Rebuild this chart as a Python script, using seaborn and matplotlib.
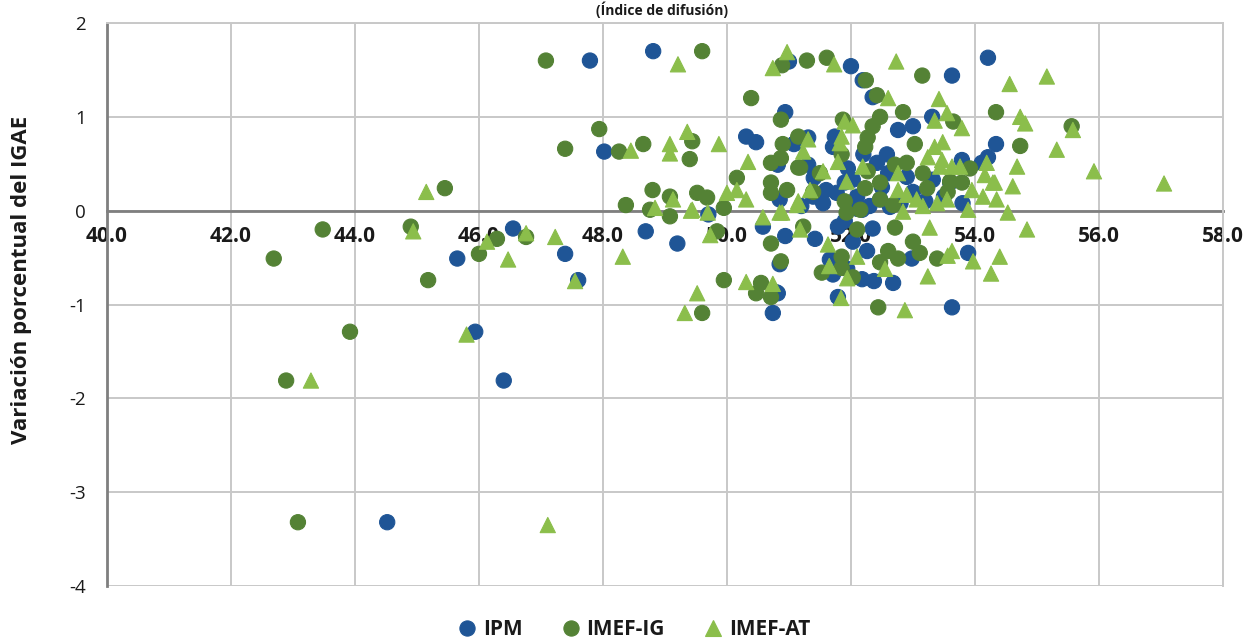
import numpy as np
import pandas as pd
import matplotlib
matplotlib.use("Agg")
import matplotlib.pyplot as plt
import seaborn as sns

# ── datos ──
ipm_x = [48.81, 47.79, 48.02, 50.31, 50.47, 50.94, 51.00, 51.08, 50.82, 50.85,
         49.70, 46.55, 48.69, 49.20, 47.39, 47.60, 50.58, 50.94, 50.85, 50.80,
         50.74, 45.94, 46.40, 44.52, 45.65, 54.21, 53.63, 52.00, 52.19, 52.35,
         52.76, 53.00, 53.31, 54.34, 54.21, 54.11, 53.79, 52.58, 52.42, 51.31,
         51.74, 51.71, 51.31, 51.10, 51.77, 52.03, 51.55, 52.18, 51.39, 53.32,
         53.60, 53.80, 52.90, 52.47, 52.63, 51.42, 51.79, 52.35, 52.26, 51.69,
         51.71, 51.94, 52.18, 52.37, 52.68, 51.79, 52.98, 53.63, 53.89, 51.90,
         52.03, 51.66, 50.82, 51.20, 51.60, 51.90, 52.10, 52.30, 52.50, 52.80,
         53.00, 53.20, 53.50, 51.40, 52.20, 51.95, 52.10, 52.60]
ipm_y = [1.70, 1.60, 0.63, 0.79, 0.73, 1.05, 1.59, 0.71, 0.49, 0.12,
         -0.04, -0.19, -0.22, -0.35, -0.46, -0.74, -0.17, -0.27, -0.57, -0.87,
         -1.09, -1.29, -1.81, -3.32, -0.51, 1.63, 1.44, 1.54, 1.39, 1.21,
         0.86, 0.90, 1.00, 0.71, 0.57, 0.51, 0.54, 0.60, 0.51, 0.78,
         0.79, 0.68, 0.49, 0.72, 0.19, 0.33, 0.08, 0.01, 0.15, 0.33,
         0.30, 0.08, 0.36, 0.12, 0.04, -0.30, -0.17, -0.19, -0.43, -0.52,
         -0.68, -0.62, -0.73, -0.75, -0.77, -0.92, -0.51, -1.03, -0.45, -0.11,
         -0.33, -0.52, -0.88, 0.05, 0.22, 0.30, 0.15, 0.05, 0.25, 0.08,
         0.20, 0.10, 0.15, 0.35, 0.60, 0.45, 0.02, 0.40]

ig_x = [45.45, 43.48, 44.90, 42.69, 45.18, 46.00, 46.29, 43.92, 42.89, 43.08,
        47.08, 49.60, 50.39, 47.94, 47.39, 48.26, 48.65, 49.44, 49.40, 48.80,
        49.08, 49.52, 49.68, 48.37, 50.16, 49.95, 48.76, 50.87, 50.90, 50.87,
        50.71, 50.71, 50.71, 50.97, 51.15, 51.15, 50.89, 49.08, 49.95, 49.60,
        50.47, 50.55, 50.71, 50.87, 50.71, 46.76, 49.84, 51.61, 51.29, 52.24,
        52.42, 53.15, 54.34, 54.73, 55.56, 52.84, 52.47, 53.65, 53.03, 52.27,
        51.87, 52.35, 52.23, 51.85, 51.18, 51.50, 52.27, 52.71, 52.90, 53.16,
        53.92, 53.79, 52.47, 52.23, 53.23, 51.90, 52.47, 52.15, 52.68, 53.56,
        51.93, 51.39, 52.71, 53.00, 53.11, 53.39, 52.60, 52.76, 52.47, 52.10,
        51.85, 51.85, 51.53, 52.03, 52.44, 51.23, 53.60]
ig_y = [0.24, -0.20, -0.17, -0.51, -0.74, -0.46, -0.30, -1.29, -1.81, -3.32,
        1.60, 1.70, 1.20, 0.87, 0.66, 0.63, 0.71, 0.74, 0.55, 0.22,
        0.15, 0.19, 0.14, 0.06, 0.35, 0.03, 0.01, 0.97, 0.71, 0.56,
        0.51, 0.30, 0.19, 0.22, 0.79, 0.46, 1.55, -0.06, -0.74, -1.09,
        -0.88, -0.77, -0.35, -0.54, -0.92, -0.28, -0.22, 1.63, 1.60, 1.39,
        1.23, 1.44, 1.05, 0.69, 0.90, 1.05, 1.00, 0.95, 0.71, 0.78,
        0.97, 0.90, 0.68, 0.60, 0.46, 0.40, 0.42, 0.49, 0.51, 0.40,
        0.45, 0.30, 0.30, 0.24, 0.24, 0.10, 0.12, 0.01, 0.06, 0.20,
        -0.02, 0.20, -0.18, -0.33, -0.45, -0.51, -0.43, -0.51, -0.55, -0.20,
        -0.49, -0.61, -0.66, -0.71, -1.03, -0.17, 0.31]

at_x = [45.15, 44.94, 46.13, 45.80, 43.29, 47.11, 49.21, 48.45, 49.08, 49.08,
        49.36, 49.87, 50.34, 50.74, 50.97, 48.84, 49.13, 49.44, 50.00, 50.16,
        50.31, 49.69, 46.76, 47.23, 46.47, 48.32, 47.55, 49.42, 49.73, 49.52,
        49.32, 50.31, 50.74, 50.58, 50.85, 51.13, 51.73, 52.73, 52.60, 53.42,
        54.56, 55.16, 53.55, 53.35, 53.79, 54.73, 54.81, 55.58, 55.32, 54.68,
        54.61, 54.19, 54.29, 54.16, 51.90, 52.03, 51.85, 51.82, 51.31, 51.23,
        51.79, 51.55, 52.19, 52.76, 53.35, 53.48, 53.24, 53.47, 53.44, 53.63,
        53.76, 51.93, 51.34, 51.15, 52.76, 52.90, 53.06, 53.55, 53.39, 53.95,
        54.32, 54.35, 54.13, 53.89, 54.53, 53.16, 52.84, 53.27, 54.84, 53.63,
        53.97, 54.40, 54.26, 53.24, 52.87, 52.10, 51.65, 52.55, 51.94, 51.84,
        51.63, 51.18, 50.89, 53.56, 57.05, 55.92]
at_y = [0.20, -0.22, -0.33, -1.32, -1.81, -3.35, 1.56, 0.64, 0.71, 0.61,
        0.84, 0.71, 0.52, 1.52, 1.69, 0.03, 0.12, 0.01, 0.19, 0.22,
        0.12, -0.02, -0.24, -0.28, -0.52, -0.49, -0.75, 0.00, -0.26, -0.88,
        -1.09, -0.76, -0.78, -0.07, -0.02, 0.06, 1.56, 1.59, 1.20, 1.19,
        1.35, 1.43, 1.04, 0.96, 0.88, 1.00, 0.93, 0.86, 0.65, 0.47,
        0.26, 0.51, 0.30, 0.38, 0.95, 0.91, 0.79, 0.72, 0.76, 0.63,
        0.52, 0.42, 0.47, 0.40, 0.68, 0.73, 0.57, 0.54, 0.47, 0.47,
        0.47, 0.31, 0.22, 0.10, 0.22, 0.17, 0.12, 0.12, 0.08, 0.22,
        0.30, 0.12, 0.15, 0.01, -0.02, 0.05, -0.01, -0.18, -0.20, -0.43,
        -0.54, -0.49, -0.67, -0.70, -1.06, -0.49, -0.59, -0.62, -0.72, -0.93,
        -0.36, -0.20, -0.02, -0.48, 0.29, 0.42]

series = ["IPM", "IMEF-IG", "IMEF-AT"]
colors = {"IPM": "#1F5596", "IMEF-IG": "#548235", "IMEF-AT": "#8BBE4B"}

df = pd.concat([
    pd.DataFrame({"x": ipm_x, "y": ipm_y, "serie": "IPM"}),
    pd.DataFrame({"x": ig_x, "y": ig_y, "serie": "IMEF-IG"}),
    pd.DataFrame({"x": at_x, "y": at_y, "serie": "IMEF-AT"}),
], ignore_index=True)

sns.set_style("white")
plt.rcParams["font.family"] = ["Open Sans", "DejaVu Sans"]

fig = plt.figure(figsize=(12.57, 6.43), dpi=100)
ax = fig.add_axes([0.0851, 0.0886, 0.8878, 0.8756])

sns.scatterplot(data=df, x="x", y="y", hue="serie", style="serie",
                hue_order=series, style_order=series, palette=colors,
                markers={"IPM": "o", "IMEF-IG": "o", "IMEF-AT": "^"},
                s=120, linewidth=0.8, edgecolor=None, ax=ax, zorder=3)

# spine first: set_position resets the tick label styling
ax.spines["bottom"].set_position(("data", 0))

ax.set_xlim(40, 58)
ax.set_ylim(-4, 2)
xt = np.arange(40, 58.1, 2)
ax.set_xticks(xt)
ax.set_xticklabels([f"{v:.1f}" for v in xt])
ax.set_yticks(np.arange(-4, 2.1, 1))
ax.set_yticklabels([f"{v:d}" for v in range(-4, 3)])
ax.tick_params(axis="x", length=0, pad=11, labelsize=15, labelcolor="#1a1a1a")
ax.tick_params(axis="y", length=0, pad=15, labelsize=13.5, labelcolor="#1a1a1a")
for lab in ax.get_xticklabels():
    lab.set_fontweight("bold")
ax.grid(True, color="#C8C8C8", linewidth=1.4, zorder=0)
ax.set_axisbelow(True)

for side in ["top", "right"]:
    ax.spines[side].set_color("#C8C8C8")
    ax.spines[side].set_linewidth(1.4)
ax.spines["bottom"].set_color("#7F7F7F")
ax.spines["bottom"].set_linewidth(2)
ax.spines["bottom"].set_zorder(2)
ax.spines["left"].set_color("#7F7F7F")
ax.spines["left"].set_linewidth(2)
ax.set_xlabel("")
ax.set_ylabel("")

fig.text(0.017, 1 - 280 / 643, "Variación porcentual del IGAE", rotation=90,
         ha="center", va="center", fontsize=16, fontweight="bold", color="#1a1a1a")
fig.text(0.527, 1 - 2 / 643, "(Índice de difusión)", ha="center", va="top",
         fontsize=10, fontweight="bold", color="#1a1a1a")

sns.move_legend(ax, "lower center", bbox_to_anchor=(0.503, -0.025),
                bbox_transform=fig.transFigure, ncol=3, frameon=False,
                title=None, fontsize=15, columnspacing=1.7,
                handlelength=1.2, handletextpad=0.17, markerscale=1.0)
for t in ax.get_legend().get_texts():
    t.set_fontweight("bold")
    t.set_color("#1a1a1a")

fig.savefig("out.png", dpi=100)
